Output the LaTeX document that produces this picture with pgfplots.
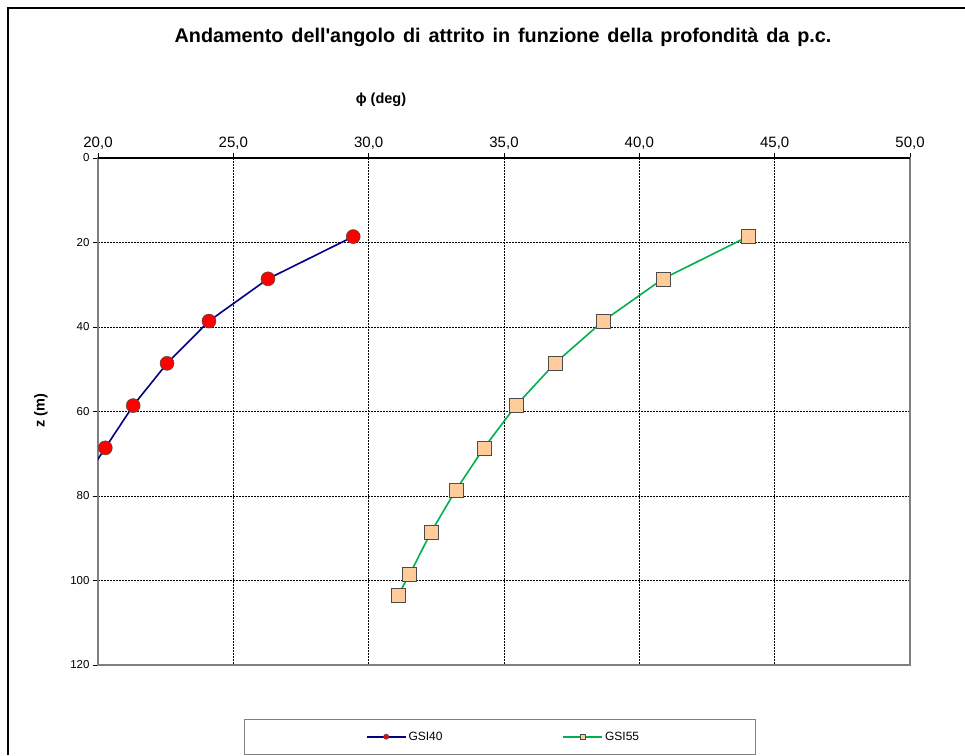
\documentclass[border=0pt]{standalone}
\usepackage{fontspec}
\setmainfont{Liberation Sans}
\usepackage{pgfplots}
\pgfplotsset{compat=1.18}
\usetikzlibrary{calc}

\definecolor{gsiblue}{RGB}{0,0,128}
\definecolor{gsigreen}{RGB}{0,176,80}
\definecolor{peach}{RGB}{255,204,153}
\definecolor{axisgray}{RGB}{128,128,128}

\begin{document}
\begin{tikzpicture}
\begin{axis}[
  name=ax,
  scale only axis, width=812pt, height=507pt,
  xmin=20, xmax=50, ymin=0, ymax=120, y dir=reverse,
  xtick={20,25,...,50}, ytick={0,20,...,120},
  xtick pos=upper, xticklabel pos=upper,
  ytick pos=left, yticklabel pos=left,
  tick align=outside, major tick length=5pt,
  tick style={black, line width=0.6pt},
  /pgf/number format/assume math mode=true,
  xticklabel style={font=\fontsize{15}{18}\selectfont,
    /pgf/number format/.cd, fixed, fixed zerofill, precision=1, use comma},
  yticklabel style={font=\fontsize{11.5}{13}\selectfont},
  grid=major,
  major grid style={black, dash pattern=on 1.5pt off 1.5pt, line width=0.7pt},
  axis line style={draw=axisgray, line width=2.6pt},
  legend columns=2,
  legend style={draw=none, fill=none, at={(0.4994,-0.1414)}, anchor=center,
    font=\fontsize{12}{14}\selectfont,
    /tikz/every even column/.append style={column sep=118pt}},
  legend image code/.code={
    \draw[mark repeat=2, mark phase=2, #1, mark size=2.6pt]
      plot coordinates {(0pt,0pt) (19.5pt,0pt) (39pt,0pt)};},
]
\addplot[gsiblue, line width=1.6pt, mark=*, mark size=7pt,
  mark options={fill=red, draw=black!70, line width=0.5pt}]
  coordinates {
  (29.43,18.6) (26.28,28.6) (24.10,38.6) (22.55,48.6)
  (21.30,58.6) (20.27,68.6) (19.25,78.6)
};
\addlegendentry{GSI40}
\addplot[gsigreen, line width=1.6pt, mark=square*, mark size=7pt,
  mark options={fill=peach, draw=black!70, line width=0.5pt}]
  coordinates {
  (44.01,18.6) (40.87,28.6) (38.66,38.6) (36.88,48.6) (35.44,58.6)
  (34.26,68.6) (33.22,78.6) (32.30,88.6) (31.51,98.6) (31.09,103.4)
};
\addlegendentry{GSI55}
\coordinate (bl) at (axis cs:20,120);
\end{axis}
\begin{scope}[shift={($(bl)+(-98pt,665pt)$)}, x=1pt, y=-1pt]
  \draw[black, line width=2pt] (98,158) -- (910,158);
  \draw[line width=1.2pt] (8,755) -- (8,8) -- (965,8);
  \draw[axisgray, line width=1pt] (244,719) rectangle (755,754);
  \node[font=\fontsize{19.8}{23}\selectfont\bfseries, anchor=base]
    at (503,42.7) {\spaceskip=0.4em\relax Andamento dell\textquotesingle angolo di attrito in funzione della profondità da p.c.};
  \node[font=\fontsize{14.5}{17}\selectfont\bfseries, anchor=base]
    at (381,103.5) {ϕ (deg)};
  \node[font=\fontsize{14.5}{17}\selectfont\bfseries, rotate=90]
    at (41,411) {z (m)};
  \pgfresetboundingbox
  \path (0,0) rectangle (965,755);
\end{scope}
\end{tikzpicture}
\end{document}
